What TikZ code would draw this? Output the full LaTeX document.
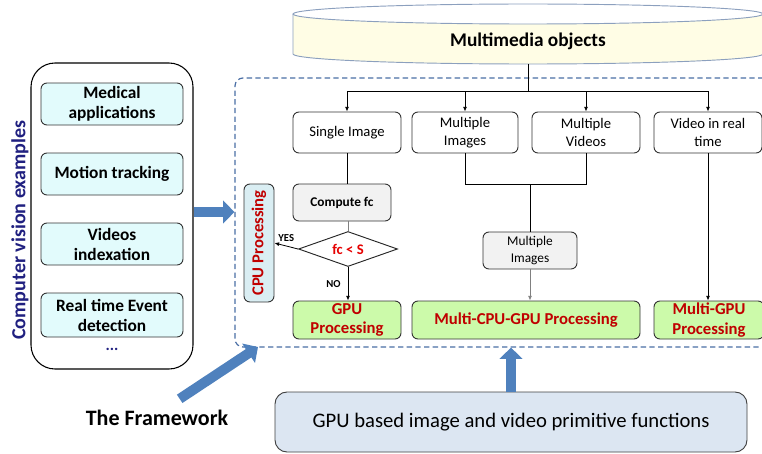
\documentclass[tikz,border=0pt]{standalone}
\usepackage{fontspec}
\setmainfont{Carlito}
\usetikzlibrary{shapes.geometric,arrows.meta}
\definecolor{framec}{RGB}{74,110,165}
\definecolor{arrowc}{RGB}{79,129,189}
\definecolor{cylfill}{RGB}{255,253,229}
\definecolor{cyldraw}{RGB}{140,160,190}
\definecolor{cyanfill}{RGB}{226,251,252}
\definecolor{cpufill}{RGB}{218,238,243}
\definecolor{greenfill}{RGB}{204,250,170}
\definecolor{grayfill}{RGB}{242,242,242}
\definecolor{darkred}{RGB}{192,0,0}
\definecolor{brightred}{RGB}{230,0,0}
\definecolor{navytxt}{RGB}{32,32,128}
\definecolor{gpubfill}{RGB}{220,230,242}
\newcommand{\fsz}[2]{\fontsize{#1pt}{#2pt}\selectfont}
\begin{document}
\begin{tikzpicture}[x=0.75pt,y=-0.75pt,
  box/.style={draw=black!80, line width=0.7pt, rounded corners=4.5pt, align=center, inner sep=1pt, font=\fsz{11}{13.5}},
  wh/.style={box, fill=white, minimum width=108*0.75pt, minimum height=41*0.75pt},
  cv/.style={box, fill=cyanfill, font=\bfseries\fsz{13}{15}, minimum width=142*0.75pt, minimum height=42*0.75pt},
  grn/.style={box, fill=greenfill, text=darkred, font=\bfseries\fsz{12.5}{14.5}, minimum height=38*0.75pt},
  conn/.style={line width=0.6pt},
  tip/.style={-{Latex[length=3.5pt,width=3pt]}},
  big/.style={draw=arrowc, line width=7.5pt, -{Triangle[length=8.5pt,width=17pt]}},
  small/.style={font=\bfseries\fsz{8}{10}}
]
\useasboundingbox (0,0) rectangle (762,453);
\clip (0,0) rectangle (762,453);

% cylinder
\fill[cylfill] (293,14) -- (293,54) arc[start angle=180,end angle=0,x radius=235,y radius=10]
  -- (763,14) arc[start angle=0,end angle=180,x radius=235,y radius=10] -- cycle;
\draw[cyldraw, line width=0.7pt] (293,14) -- (293,54) arc[start angle=180,end angle=0,x radius=235,y radius=10] -- (763,14);
\draw[cyldraw, line width=0.7pt] (528,14) ellipse[x radius=235, y radius=10];
\node[minimum width=470*0.75pt, minimum height=60*0.75pt, inner sep=0pt] (cyl) at (528,34) {};
\node[font=\bfseries\fsz{14.5}{17}] (cyltxt) at (528,41) {Multimedia objects};

% left panel
\node[draw, line width=0.8pt, rounded corners=18pt, minimum width=162*0.75pt, minimum height=306*0.75pt] (panel) at (112,216) {};
\node[cv] (med) at (112,104) {Medical\\applications};
\node[cv] (mot) at (112,174) {Motion tracking};
\node[cv] (vid) at (112,244) {Videos\\indexation};
\node[cv, minimum height=44*0.75pt] (rte) at (112,315) {Real time Event\\detection};
\node[text=navytxt, font=\bfseries\fsz{12}{14}] (dots) at (112,349) {...};
\node[rotate=90, text=navytxt, font=\bfseries\fsz{15}{18}] (cve) at (20,230) {Computer vision examples};

% framework frame
\node[draw=framec, dash pattern=on 4pt off 2.5pt, rounded corners=6pt, line width=0.9pt, minimum width=545*0.75pt, minimum height=269*0.75pt] (fw) at (507.5,212.5) {};

% top row
\node[wh] (single) at (347,132.5) {Single Image};
\node[wh, minimum width=106*0.75pt] (mimg) at (465,132.5) {Multiple\\Images};
\node[wh] (mvid) at (586,132.5) {Multiple\\Videos};
\node[wh] (vrt) at (708,132.5) {Video in real\\time};

% single image branch
\node[box, fill=grayfill, font=\bfseries\fsz{10}{12}, minimum width=98*0.75pt, minimum height=37*0.75pt] (cfc) at (342,202.5) {Compute fc};
\node[diamond, draw=black!85, fill=white, line width=0.7pt, aspect=2.83, inner sep=0pt, minimum width=99*0.75pt, minimum height=35*0.75pt, text=brightred, font=\bfseries\fsz{11}{13}] (dec) at (348,249) {fc < S};
\node[box, fill=cpufill, minimum width=30*0.75pt, minimum height=118*0.75pt] (cpu) at (259,243) {};
\node[rotate=90, text=darkred, font=\bfseries\fsz{12.5}{15}] (cputxt) at (cpu.center) {CPU Processing};

% multiple branch
\node[box, fill=grayfill, font=\fsz{10}{12.5}, minimum width=94*0.75pt, minimum height=37*0.75pt] (mimg2) at (530,250.5) {Multiple\\Images};

% green row
\node[grn, minimum width=108*0.75pt] (gpu) at (347,320) {GPU\\Processing};
\node[grn, minimum width=228*0.75pt] (mcg) at (526,320) {Multi-CPU-GPU Processing};
\node[grn, minimum width=110*0.75pt] (mgpu) at (709,320) {Multi-GPU\\Processing};

% bottom
\node[box, fill=gpubfill, draw=black!75, rounded corners=9pt, font=\fsz{15.5}{18}, minimum width=472*0.75pt, minimum height=60*0.75pt] (gpub) at (511,422) {GPU based image and video primitive functions};
\node[font=\bfseries\fsz{16.5}{19}] (tfw) at (157,418) {The Framework};

% connectors
\coordinate (bus) at (528,91);
\draw[conn] (cyl.south) -- (bus);
\draw[conn] (single.north |- bus) -- (vrt.north |- bus);
\foreach \n in {single,mimg,mvid,vrt} \draw[conn,tip] (\n.north |- bus) -- (\n.north);
\draw[conn] (single.south) -- (single.south |- cfc.north);
\draw[conn, gray] (dec.north |- cfc.south) -- (dec.north);
\draw[conn,tip] (dec.west) -- (cpu.east) node[midway, above=0pt, small] {YES};
\draw[conn,tip] (dec.south) -- (dec.south |- gpu.north) node[midway, left=2pt, small] {NO};
\coordinate (merge) at (530,184);
\draw[conn] (mimg.south) -- (mimg.south |- merge) -| (mvid.south);
\draw[conn] (merge) -- (mimg2.north);
\draw[conn, gray, tip] (mimg2.south) -- (mimg2.south |- mcg.north);
\draw[conn, tip] (vrt.south) -- (vrt.south |- mgpu.north);

% big arrows
\coordinate (fwtip) at (258,347);
\draw[big] ([yshift=3pt]panel.east) -- ([yshift=3pt]panel.east -| fw.west);
\draw[big] ([xshift=17pt,yshift=5pt]tfw.north) -- (fwtip);
\draw[big] (gpub.north) -- (gpub.north |- fw.south);
\end{tikzpicture}
\end{document}
